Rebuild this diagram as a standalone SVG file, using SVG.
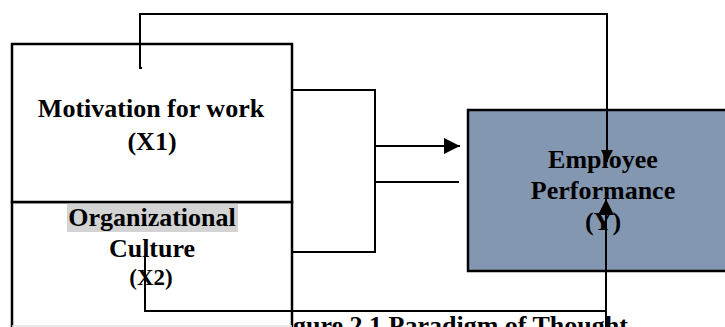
<svg xmlns="http://www.w3.org/2000/svg" width="725" height="327" viewBox="0 0 725 327">
<style>
.box{fill:#ffffff;stroke:#000;stroke-width:2.5}
.dep{fill:#8497b0;stroke:#000;stroke-width:2.5}
.t{font-family:"Liberation Serif","Times New Roman",serif;font-weight:bold;font-size:26px;fill:#000;text-anchor:middle}
.c{fill:none;stroke:#000;stroke-width:2}
</style>
<defs>
<marker id="ah" markerWidth="8" markerHeight="8" refX="8" refY="4" orient="auto" markerUnits="strokeWidth"><path d="M0,0 L8,4 L0,8 Z" fill="#000"/></marker>
<marker id="ahs" markerWidth="6" markerHeight="6" refX="6" refY="3" orient="auto" markerUnits="strokeWidth"><path d="M0,0 L6,3 L0,6 Z" fill="#000"/></marker>
</defs>
<text x="293" y="334" class="t" style="text-anchor:start">gure 2.1 Paradigm of Thought</text>
<g id="x2">
<rect class="box" x="12" y="202" width="280" height="140"/>
<rect x="67" y="203" width="171" height="29" fill="#d3d3d3"/>
<text x="152" y="226" class="t">Organizational</text>
<text x="152" y="257" class="t">Culture</text>
<text x="151" y="285" class="t" style="font-size:23px">(X2)</text>
</g>
<g id="x1">
<rect class="box" x="12" y="44" width="280" height="158"/>
<text x="151" y="117" class="t">Motivation for work</text>
<text x="152" y="150" class="t">(X1)</text>
</g>
<line x1="12" y1="326" x2="292" y2="326" stroke="#e2e2e2" stroke-width="1.5"/>
<g id="y">
<rect class="dep" x="468" y="110" width="270" height="161"/>
<text x="603" y="168" class="t">Employee</text>
<text x="603" y="199" class="t">Performance</text>
<text x="603" y="230" class="t">(Y)</text>
</g>
<g id="connectors">
<polyline class="c" points="142,68 140,68 140,14 607,14 607,162" marker-end="url(#ahs)"/>
<polyline class="c" points="292,90 375,90 375,252 292,252"/>
<line class="c" x1="375" y1="146" x2="460" y2="146" marker-end="url(#ah)"/>
<line class="c" x1="375" y1="182" x2="459" y2="182"/>
<polyline class="c" points="145,257 145,311 606,311"/>
<line class="c" x1="606" y1="327" x2="606" y2="199" marker-end="url(#ah)"/>
</g>
</svg>
